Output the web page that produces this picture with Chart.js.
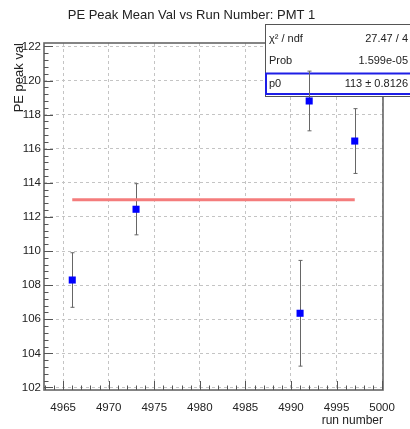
<!DOCTYPE html>
<html>
<head>
<meta charset="utf-8">
<script src="https://cdn.jsdelivr.net/npm/chart.js@4"></script>
<style>
html, body { margin: 0; padding: 0; background: #fff; }
#wrap { width: 410px; height: 429px; }
</style>
</head>
<body>
<div id="wrap"><canvas id="c" width="410" height="429"></canvas></div>
<script>
// PE peak mean per run (PMT 1)
var runs = [4966, 4973, 4991, 4992, 4997];
var peakVal = [108.3, 112.45, 106.35, 118.8, 116.45];
var peakErr = [1.6, 1.5, 3.1, 1.75, 1.9];

// constant fit (pol0)
var fitRange = [4966, 4997];
var fitP0 = 113;

// stats box
var statNames = ['χ² / ndf', 'Prob', 'p0'];
var statValues = ['27.47 / 4', '1.599e-05', '113 ± 0.8126'];

// axis ticks
var xTickVals = [4965, 4970, 4975, 4980, 4985, 4990, 4995, 5000];
var yTickVals = [102, 104, 106, 108, 110, 112, 114, 116, 118, 120, 122];

var FONT = '"Liberation Sans", Arial, Helvetica, sans-serif';

// frame, ROOT-like inward ticks, stats box and error bars
var rootPlugin = {
  id: 'rootStyle',
  beforeDatasetsDraw: function (chart) {
    var ctx = chart.ctx, a = chart.chartArea;
    var xs = chart.scales.x, ys = chart.scales.y;
    ctx.save();

    //frame
    ctx.strokeStyle = '#666';
    ctx.lineWidth = 1.6;
    ctx.strokeRect(a.left, a.top, a.right - a.left, a.bottom - a.top);

    //ticks (major + minor)
    ctx.lineWidth = 1;
    ctx.strokeStyle = '#555';
    ctx.beginPath();
    for (var k = 0; k <= 50; k++) {
      var v = 102 + 0.4 * k;
      var y = Math.round(ys.getPixelForValue(v)) + 0.5;
      var len = (k % 5 === 0) ? 9 : 4.5;
      ctx.moveTo(a.left, y);
      ctx.lineTo(a.left + len, y);
    }
    for (var r = 4963; r <= 5000; r++) {
      var x = Math.round(xs.getPixelForValue(r)) + 0.5;
      var l2 = (r % 5 === 0) ? 9 : 4.5;
      ctx.moveTo(x, a.bottom);
      ctx.lineTo(x, a.bottom - l2);
    }
    ctx.stroke();

    //stats box
    var bx = 265, by = 24, bw = 150, bh = 72;
    ctx.fillStyle = '#fff';
    ctx.fillRect(bx, by, bw, bh);
    ctx.strokeStyle = '#555';
    ctx.lineWidth = 1;
    ctx.strokeRect(bx + 0.5, by + 0.5, bw, bh);
    ctx.strokeStyle = '#1e1ee6';
    ctx.lineWidth = 2;
    ctx.strokeRect(bx + 1, 73.5, bw, 20.5);
    ctx.font = '11px ' + FONT;
    ctx.fillStyle = '#222';
    ctx.textBaseline = 'middle';
    var rowY = [39, 61, 84];
    for (var i = 0; i < statNames.length; i++) {
      ctx.textAlign = 'left';
      ctx.fillText(statNames[i], bx + 4, rowY[i]);
      ctx.textAlign = 'right';
      ctx.fillText(statValues[i], 408, rowY[i]);
    }

    //error bars
    ctx.strokeStyle = '#666';
    ctx.lineWidth = 1;
    ctx.beginPath();
    for (var j = 0; j < runs.length; j++) {
      var px = Math.round(xs.getPixelForValue(runs[j])) + 0.5;
      var yt = ys.getPixelForValue(peakVal[j] + peakErr[j]);
      var yb = ys.getPixelForValue(peakVal[j] - peakErr[j]);
      ctx.moveTo(px, yt); ctx.lineTo(px, yb);
      ctx.moveTo(px - 2, yt); ctx.lineTo(px + 2, yt);
      ctx.moveTo(px - 2, yb); ctx.lineTo(px + 2, yb);
    }
    ctx.stroke();
    ctx.restore();
  }
};

var points = runs.map(function (r, i) { return { x: r, y: peakVal[i] }; });
var fitLine = fitRange.map(function (r) { return { x: r, y: fitP0 }; });

new Chart(document.getElementById('c'), {
  type: 'scatter',
  data: {
    datasets: [
      {
        type: 'line',
        data: fitLine,
        borderColor: '#f47c7c',
        borderWidth: 3,
        pointRadius: 0,
        fill: false
      },
      {
        data: points,
        pointStyle: 'rect',
        pointRadius: 5,
        backgroundColor: '#0000ff',
        borderWidth: 0
      }
    ]
  },
  options: {
    responsive: false,
    animation: false,
    devicePixelRatio: 1,
    layout: { padding: { left: 0, right: 27, top: 0, bottom: 0 } },
    plugins: {
      legend: { display: false },
      tooltip: { enabled: false },
      title: {
        display: true,
        text: 'PE Peak Mean Val vs Run Number: PMT 1',
        color: '#222',
        font: { family: FONT, size: 13, weight: 'normal' },
        padding: { top: 8, bottom: 19.4 }
      }
    },
    scales: {
      x: {
        type: 'linear',
        min: 4962.9,
        max: 5000.1,
        afterFit: function (s) { s.height = 39; },
        afterBuildTicks: function (s) { s.ticks = xTickVals.map(function (v) { return { value: v }; }); },
        grid: { color: '#c4c4c4', lineWidth: 1, drawTicks: false },
        border: { display: false, dash: [3, 3] },
        ticks: {
          padding: 11,
          maxRotation: 0,
          color: '#222',
          font: { family: FONT, size: 11.5 },
          callback: function (v) { return String(v); }
        },
        title: {
          display: true,
          text: 'run number',
          align: 'end',
          color: '#222',
          font: { family: FONT, size: 12 },
          padding: { top: 0, bottom: 1 }
        }
      },
      y: {
        type: 'linear',
        min: 101.85,
        max: 122.2,
        afterFit: function (s) { s.width = 44; },
        afterBuildTicks: function (s) { s.ticks = yTickVals.map(function (v) { return { value: v }; }); },
        grid: { color: '#c4c4c4', lineWidth: 1, drawTicks: false },
        border: { display: false, dash: [3, 3] },
        ticks: {
          padding: 3,
          color: '#222',
          font: { family: FONT, size: 11.5 },
          callback: function (v) { return String(v); }
        },
        title: {
          display: true,
          text: 'PE peak val',
          align: 'end',
          color: '#222',
          font: { family: FONT, size: 13 },
          padding: { top: 12, bottom: 0 }
        }
      }
    }
  },
  plugins: [rootPlugin]
});
</script>
</body>
</html>
